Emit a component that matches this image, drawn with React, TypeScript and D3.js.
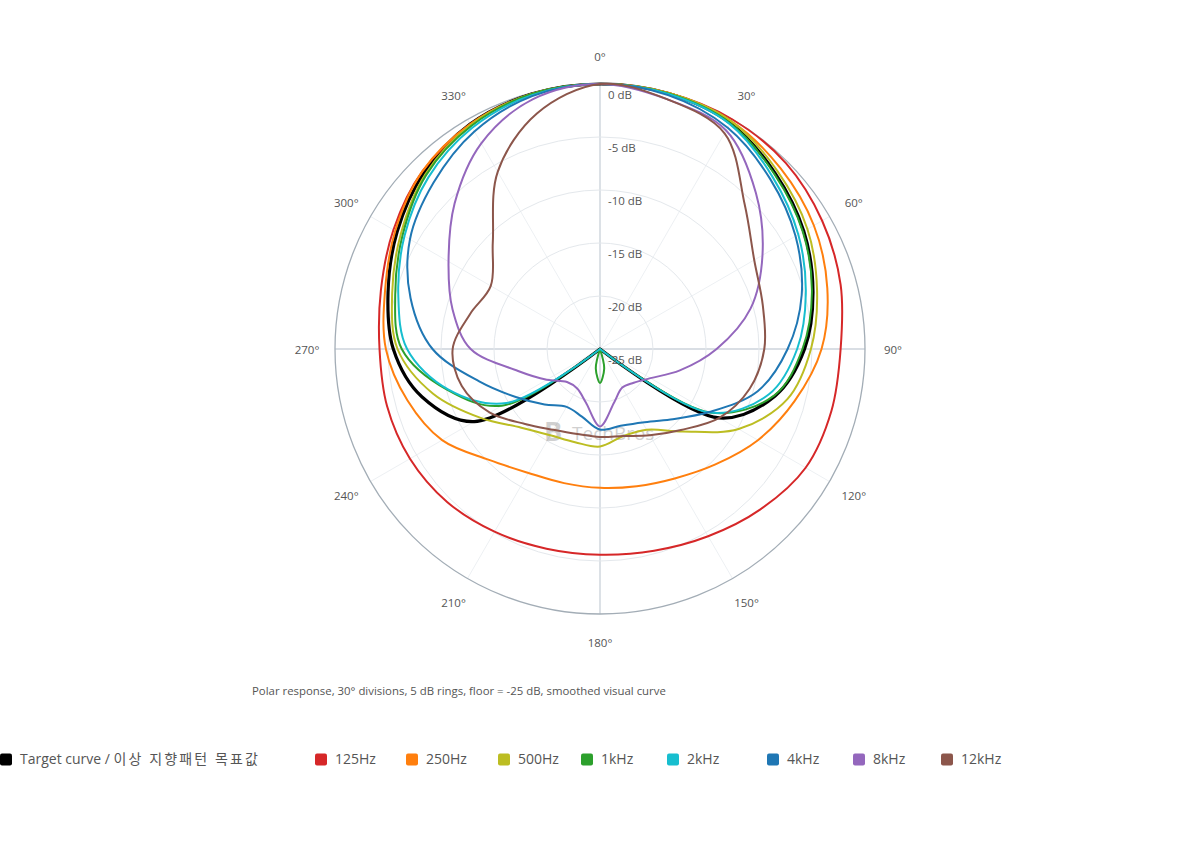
import React, { useEffect, useRef } from 'react';
import * as d3 from 'd3';

// sample angles (deg, clockwise from front) and level in dB for each trace
const angles = [0, 15, 30, 45, 60, 75, 90, 105, 120, 135, 150, 165, 180, 195, 210, 225, 240, 255, 270, 285, 300, 315, 330, 345];
// 1kHz has a narrow rear lobe, so it is sampled a bit finer around 180°
const anglesK1 = [0, 15, 30, 45, 60, 75, 90, 105, 120, 135, 150, 165, 168, 180, 192, 195, 210, 225, 240, 255, 270, 285, 300, 315, 330, 345];

const target = [0, -0.05, -0.4, -1.6, -2.8, -4.2, -5.7, -7.9, -12.0, -25, -25, -25, -25, -25, -25, -25, -11.3, -7.6, -5.5, -4.3, -2.9, -1.5, -0.5, -0.1];
const hz125 = [0, 0, 0, -0.2, -0.8, -1.5, -2.3, -2.4, -2.6, -3.6, -4.6, -5.3, -5.6, -5.5, -5.1, -4.6, -4.3, -4.2, -4.2, -3.6, -2.5, -1.3, -0.6, -0.1];
const hz250 = [0, 0, -0.2, -0.9, -1.7, -2.8, -4.1, -6.0, -7.8, -9.6, -10.9, -11.6, -11.9, -11.9, -11.5, -10.2, -7.8, -6.2, -4.8, -4.0, -2.7, -1.3, -0.5, -0.1];
const hz500 = [0, 0, -0.2, -1.3, -2.4, -3.8, -5.1, -6.7, -9.9, -14.0, -16.2, -16.5, -15.8, -15.9, -15.6, -14.5, -12.0, -8.7, -5.9, -4.7, -3.3, -1.7, -0.6, -0.1];
const k1 = [0, -0.05, -0.4, -1.7, -2.9, -4.3, -5.9, -8.0, -13.0, -25, -25, -25, -23.1, -21.8, -23.1, -25, -25, -25, -14.3, -10.1, -6.3, -5.0, -3.5, -1.8, -0.7, -0.1];
const k2 = [0, -0.1, -0.5, -2.0, -3.4, -4.9, -6.4, -8.5, -13.0, -25, -25, -25, -25, -25, -25, -25, -14.8, -10.2, -6.8, -5.3, -3.7, -2.1, -0.9, -0.2];
const k4 = [0, -0.2, -0.9, -2.3, -3.7, -5.3, -7.3, -9.6, -13.1, -15.6, -17.0, -17.5, -17.4, -18.4, -18.7, -17.6, -15.9, -13.2, -9.2, -6.5, -4.3, -2.8, -1.3, -0.3];
const k8 = [0, -0.6, -1.2, -4.2, -7.3, -10.3, -14.0, -17.2, -19.5, -20.5, -20.8, -19.8, -17.7, -19.8, -20.7, -20.6, -19.2, -17.0, -12.8, -10.6, -8.5, -5.6, -2.6, -0.6];
const k12 = [0, -0.6, -1.5, -5.7, -8.2, -9.1, -9.5, -10.4, -12.0, -14.2, -15.6, -16.5, -16.7, -16.7, -16.2, -15.0, -13.0, -11.5, -11.1, -12.3, -13.1, -10.7, -5.7, -2.0];

const seriesNames = ['Target curve / 이상 지향패턴 목표값', '125Hz', '250Hz', '500Hz', '1kHz', '2kHz', '4kHz', '8kHz', '12kHz'];
const seriesValues = [target, hz125, hz250, hz500, k1, k2, k4, k8, k12];
const seriesAngles = [angles, angles, angles, angles, anglesK1, angles, angles, angles, angles];
const seriesColors = ['#000000', '#d62728', '#ff7f0e', '#bcbd22', '#2ca02c', '#17becf', '#1f77b4', '#9467bd', '#8c564b'];

const ringTicks = [0, -5, -10, -15, -20, -25];
const angleTicks = [0, 30, 60, 90, 120, 150, 180, 210, 240, 270, 300, 330];

const caption = 'Polar response, 30° divisions, 5 dB rings, floor = -25 dB, smoothed visual curve';

// legend item left edges (layout)
const legendX = [0, 315, 406, 498, 581, 667, 767, 853, 941];

const W = 1200;
const H = 860;
const FONT = '"Open Sans", "Noto Sans", "Noto Sans CJK KR", sans-serif';

const App: React.FC = () => {
  const svgRef = useRef<SVGSVGElement>(null);

  useEffect(() => {
    if (!svgRef.current) return;
    const svg = d3.select(svgRef.current);
    svg.selectAll('*').remove();

    const cx = 600;
    const cy = 349;
    const R = 265;
    const toRad = (deg: number) => (deg * Math.PI) / 180;

    const r = d3.scaleLinear().domain([-25, 0]).range([0, R]).clamp(true);

    const g = svg.append('g').attr('transform', `translate(${cx},${cy})`);

    // radial spokes
    g.selectAll('.spoke')
      .data(angleTicks)
      .join('line')
      .attr('class', 'spoke')
      .attr('x1', 0)
      .attr('y1', 0)
      .attr('x2', d => R * Math.sin(toRad(d)))
      .attr('y2', d => -R * Math.cos(toRad(d)))
      .attr('stroke', d => (d % 90 === 0 ? '#d9dee4' : '#edf0f3'))
      .attr('stroke-width', d => (d % 90 === 0 ? 1.8 : 1));

    // dB rings
    g.selectAll('.ring')
      .data(ringTicks.filter(d => d > -25))
      .join('circle')
      .attr('class', 'ring')
      .attr('r', d => r(d))
      .attr('fill', 'none')
      .attr('stroke', d => (d === 0 ? '#a3adb6' : '#e4e8ec'))
      .attr('stroke-width', d => (d === 0 ? 1.3 : 1));

    // watermark
    const wm = g.append('g').attr('opacity', 0.3).attr('fill', '#666');
    wm.append('text')
      .attr('x', -47)
      .attr('y', 92)
      .attr('text-anchor', 'middle')
      .style('font-family', FONT)
      .style('font-size', '27px')
      .style('font-weight', 'bold')
      .text('B');
    wm.append('text')
      .attr('x', -28)
      .attr('y', 91)
      .style('font-family', FONT)
      .style('font-size', '19px')
      .text('TechBros');

    // traces
    const line = (vals: number[], angs: number[]) =>
      d3.lineRadial<number>()
        .angle((_, i) => toRad(angs[i]))
        .radius(d => r(d))
        .curve(d3.curveCatmullRomClosed.alpha(0.5))(vals) || '';

    g.selectAll('.trace')
      .data(seriesValues)
      .join('path')
      .attr('class', 'trace')
      .attr('d', (d, i) => line(d, seriesAngles[i]))
      .attr('fill', 'none')
      .attr('stroke', (_, i) => seriesColors[i])
      .attr('stroke-width', (_, i) => (i === 0 ? 3.2 : 2))
      .attr('stroke-linejoin', 'round');

    // dB labels along the front axis
    g.selectAll('.dbLabel')
      .data(ringTicks)
      .join('text')
      .attr('class', 'dbLabel')
      .attr('x', 8)
      .attr('y', d => -r(d) + 12)
      .attr('dominant-baseline', 'middle')
      .style('font-family', FONT)
      .style('font-size', '11.5px')
      .style('fill', '#555')
      .text(d => `${d} dB`);

    // angle labels
    g.selectAll('.angLabel')
      .data(angleTicks)
      .join('text')
      .attr('class', 'angLabel')
      .attr('x', d => 293 * Math.sin(toRad(d)))
      .attr('y', d => -293 * Math.cos(toRad(d)) + 1.5)
      .attr('text-anchor', 'middle')
      .attr('dominant-baseline', 'middle')
      .style('font-family', FONT)
      .style('font-size', '11.5px')
      .style('fill', '#555')
      .text(d => `${d}°`);

    // caption
    svg.append('text')
      .attr('x', 252)
      .attr('y', 692)
      .attr('dominant-baseline', 'middle')
      .style('font-family', FONT)
      .style('font-size', '11.4px')
      .style('fill', '#555')
      .text(caption);

    // legend
    const legend = svg.append('g').attr('transform', 'translate(0,760)');
    const items = legend.selectAll('.item')
      .data(seriesNames)
      .join('g')
      .attr('class', 'item')
      .attr('transform', (_, i) => `translate(${legendX[i]},0)`);

    items.append('rect')
      .attr('x', 0)
      .attr('y', -6.5)
      .attr('width', 12)
      .attr('height', 12)
      .attr('rx', 2)
      .attr('fill', (_, i) => seriesColors[i]);

    const labels = items.append('text')
      .attr('x', 20)
      .attr('y', 0)
      .attr('dominant-baseline', 'middle')
      .style('font-family', FONT)
      .style('font-size', '14px')
      .style('fill', '#555');

    labels.each(function (d) {
      const t = d3.select(this);
      const slash = d.indexOf('/ ');
      if (slash < 0) {
        t.text(d);
        return;
      }
      t.append('tspan').text(d.slice(0, slash + 2));
      t.append('tspan').style('letter-spacing', '2.1px').text(d.slice(slash + 2));
    });
  }, []);

  return (
    <svg
      ref={svgRef}
      width={W}
      height={H}
      style={{ position: 'absolute', left: 0, top: 0, display: 'block', background: 'white' }}
    />
  );
};

export default App;
